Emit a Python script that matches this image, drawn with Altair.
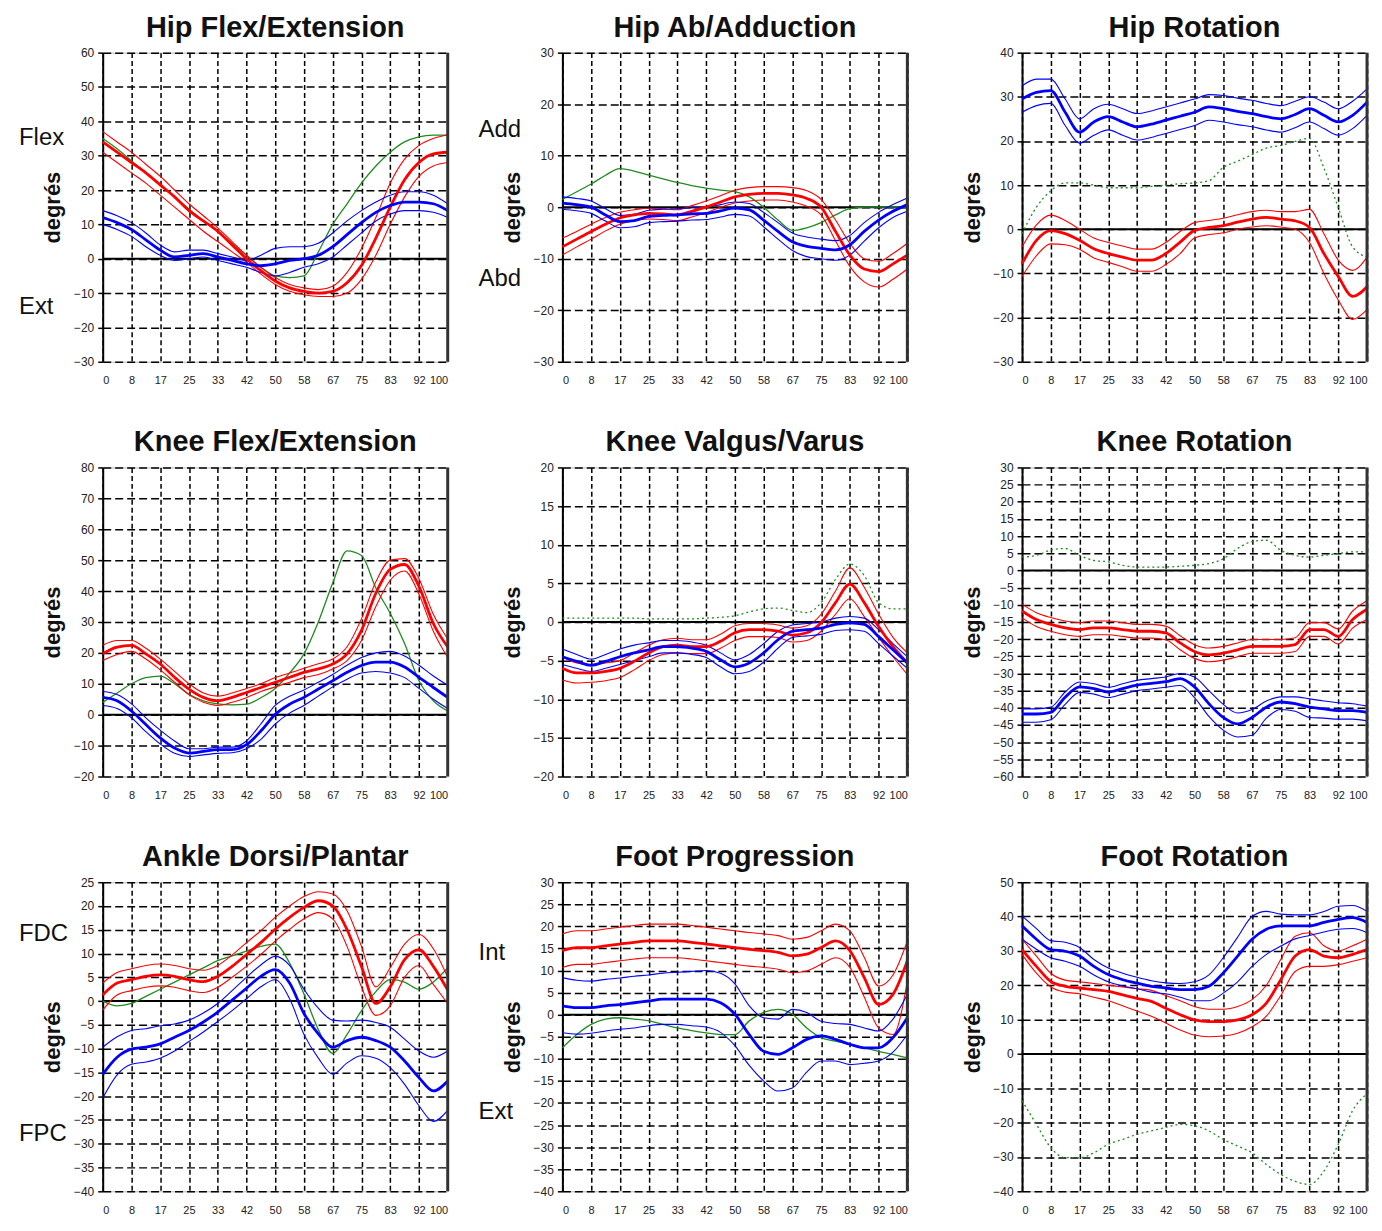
import json
import altair as alt
import pandas as pd

# ---- gait-cycle sample positions (% of cycle) ----
X = [0, 4.17, 8.33, 12.5, 16.67, 20.83, 25, 29.17, 33.33, 37.5, 41.67, 45.83, 50,
     54.17, 58.33, 62.5, 66.67, 70.83, 75, 79.17, 83.33, 87.5, 91.67, 95.83, 100]
X_TICKS = [0, 8.33, 16.67, 25, 33.33, 41.67, 50, 58.33, 66.67, 75, 83.33, 91.67, 100]
X_TICK_LABELS = ["0", "8", "17", "25", "33", "42", "50", "58", "67", "75", "83", "92", "100"]

# ---- Hip Flex/Extension ----
HIP_FLEX_TICKS = [-30, -20, -10, 0, 10, 20, 30, 40, 50, 60]
HIP_FLEX_RED = [34, 31, 28, 25, 21.5, 18, 14, 11, 8, 4, 0, -3.5, -6.5, -8.5, -9.5, -10, -9.5, -7, -2, 6, 15, 23, 28, 30.5, 31]
HIP_FLEX_RED_HI = [37, 34, 31, 27.5, 24, 20, 16, 12.5, 9, 5, 1, -2.5, -5.5, -7.5, -8.5, -9, -8, -4, 3, 12, 22, 29, 33, 35, 36]
HIP_FLEX_RED_LO = [31, 28, 25, 22, 18.5, 15, 11.5, 8, 5, 2, -1, -4.5, -7.5, -9.5, -10.5, -11, -11, -10, -6, 1, 10, 18, 24, 27, 28]
HIP_FLEX_BLUE = [12, 10.5, 8.5, 5.5, 2.5, 0.5, 1, 1.5, 0.5, -0.5, -1.5, -2, -1.5, -0.5, 0, 1, 3.5, 7, 10.5, 13.5, 15.5, 16.5, 16.5, 16, 14]
HIP_FLEX_BLUE_HI = [14, 12.5, 10.5, 7.5, 4, 2, 2.5, 2.5, 1.5, 0.5, -0.5, 1, 3, 3.5, 3.5, 4.5, 7.5, 11, 14, 16.5, 18.5, 19.5, 19.5, 18.5, 16]
HIP_FLEX_BLUE_LO = [10, 8.5, 6.5, 3.5, 1, -0.5, 0, 0.5, -0.5, -1.5, -2.5, -4, -5, -4, -2.5, -1.5, 0.5, 4, 7.5, 11, 13, 14, 14, 13.5, 12]
HIP_FLEX_GREEN = [35, 32, 28.5, 25, 21.5, 18, 14.5, 11, 8, 4.5, 1, -2.5, -5, -5.5, -5, 2, 10, 16, 22, 27, 31, 34, 35.5, 36, 36]

# ---- Hip Ab/Adduction ----
HIP_ABD_TICKS = [-30, -20, -10, 0, 10, 20, 30]
HIP_ABD_RED = [-7.7, -6.2, -4.7, -3.3, -2.1, -1.5, -1.2, -1.3, -1.5, -0.8, 0, 1, 2, 2.5, 2.7, 2.7, 2.4, 1.7, 0, -4.7, -9.3, -12, -12.5, -11, -9.3]
HIP_ABD_RED_HI = [-6, -4.7, -3.3, -2, -1, -0.5, -0.2, -0.3, -0.5, 0.3, 1.2, 2.2, 3.3, 3.8, 4, 4, 3.8, 3.2, 1.5, -2.5, -7, -10, -10.5, -9, -7]
HIP_ABD_RED_LO = [-9.3, -7.7, -6.2, -4.6, -3.3, -2.6, -2.3, -2.4, -2.6, -1.9, -1.1, 0, 0.8, 1.2, 1.4, 1.4, 1, 0.2, -1.5, -6.5, -11.5, -14.5, -15.5, -14, -12]
HIP_ABD_BLUE = [0.8, 0.5, 0, -1.5, -2.8, -2.6, -1.8, -1.6, -1.5, -1.3, -1.2, -0.7, -0.2, -0.5, -2.5, -4.7, -6.7, -7.6, -8, -8.3, -7.3, -4.7, -2.5, -0.8, 0.5]
HIP_ABD_BLUE_HI = [2, 1.7, 1.2, -0.3, -1.6, -1.4, -0.6, -0.4, -0.3, -0.1, 0, 0.5, 1, 0.7, -1, -3, -5, -5.8, -6.2, -6.5, -5.5, -3, -1, 0.5, 1.8]
HIP_ABD_BLUE_LO = [-0.4, -0.7, -1.2, -2.7, -4, -3.8, -3, -2.8, -2.7, -2.5, -2.4, -1.9, -1.4, -1.7, -3.8, -6.2, -8.4, -9.6, -10, -10.3, -9.3, -6.6, -4, -2, -0.8]
HIP_ABD_GREEN = [1.5, 3, 4.5, 6.2, 7.5, 7, 6.2, 5.5, 4.8, 4.2, 3.7, 3.3, 3, 2, 0, -2.5, -4.5, -4, -3, -1.5, -0.3, 0, 0, 0, 0]

# ---- Hip Rotation ----
HIP_ROT_TICKS = [-30, -20, -10, 0, 10, 20, 30, 40]
HIP_ROT_RED = [-7.8, -2.5, -0.3, -1, -2.5, -4.4, -5.5, -6.3, -7, -7, -5.5, -2.9, -0.3, 0.4, 0.8, 1.6, 2.3, 2.7, 2.3, 1.9, 0.4, -5.5, -10.7, -15.2, -13]
HIP_ROT_RED_HI = [-4, 1, 3.2, 2, 0, -2, -3, -3.8, -4.5, -4.5, -3, -0.5, 1.5, 2, 2.5, 3.3, 4, 4.3, 4, 4, 4.5, -1, -7, -9.3, -6.3]
HIP_ROT_RED_LO = [-10.7, -6, -3.3, -3.5, -4.5, -6.5, -7.5, -8.5, -9.5, -9.5, -8, -5.5, -2, -1.2, -0.8, 0, 0.5, 0.8, 0.5, 0, -3, -10, -16, -20.4, -18.2]
HIP_ROT_BLUE = [29.5, 31, 31.4, 26.5, 22, 24.3, 25.5, 24.3, 23.2, 23.8, 24.7, 25.6, 26.5, 27.7, 27.3, 26.7, 26.2, 25.5, 25, 26, 27.3, 25.8, 24.3, 25.8, 28.8]
HIP_ROT_BLUE_HI = [32.5, 34, 34, 29.5, 25, 27.3, 28.3, 27.3, 26.2, 26.8, 27.7, 28.6, 29.5, 30.5, 30.3, 29.7, 29.2, 28.5, 28, 29, 30, 28.8, 27.3, 29, 31.8]
HIP_ROT_BLUE_LO = [26.5, 28, 28.5, 23.5, 19.5, 21.3, 22.5, 21.3, 20.2, 20.8, 21.7, 22.6, 23.5, 24.7, 24.3, 23.7, 23.2, 22.5, 22, 23, 24.3, 22.8, 21.3, 22.8, 25.8]
HIP_ROT_GREEN = [-1, 5, 8.7, 10.5, 10.5, 10, 9.4, 9.4, 9.4, 9.7, 10, 10.3, 10.5, 11, 14, 15.4, 16.9, 18.4, 19, 19.9, 20.6, 13.9, 4.9, -4, -6.3]

# ---- Knee Flex/Extension ----
KNEE_FLEX_TICKS = [-20, -10, 0, 10, 20, 30, 40, 50, 60, 70, 80]
KNEE_FLEX_RED = [19.7, 21.9, 22.4, 19.7, 16.4, 12.1, 8.3, 5.6, 4.5, 5.6, 7.2, 8.8, 10.5, 12.1, 13.7, 14.8, 16.4, 19.7, 27.3, 39.3, 47, 48.6, 41.5, 29.5, 21.9]
KNEE_FLEX_RED_HI = [22.5, 24, 24, 21.5, 18, 14, 10, 7, 6, 7, 8.5, 10, 12, 13.5, 15, 16.5, 18, 22, 31, 43, 50, 50.5, 44, 32.5, 24.5]
KNEE_FLEX_RED_LO = [17.5, 19.5, 20.5, 18, 14.5, 10.5, 6.5, 4, 3, 4, 5.5, 7.5, 9, 10.5, 12, 13, 14.8, 17.5, 24, 35, 43.5, 46.5, 39, 27, 18.5]
KNEE_FLEX_BLUE = [5.6, 4.5, 1.2, -3.2, -7.5, -10.8, -12.4, -11.9, -11.3, -11.3, -9.7, -5.3, 0.1, 3.4, 5.6, 8.3, 11, 13.7, 15.9, 17, 17, 15.4, 12.1, 8.8, 5.6]
KNEE_FLEX_BLUE_HI = [7.5, 6.5, 3.5, -1, -5, -8.5, -11, -11, -10.5, -10.5, -8.5, -3, 3, 6, 8, 10.5, 13, 16, 18.5, 20, 20.5, 19, 16, 12.5, 9.5]
KNEE_FLEX_BLUE_LO = [3, 2, -1, -5.5, -9.5, -12.5, -13.5, -13, -12.5, -12.3, -11, -8, -3, 0.5, 3, 6, 9, 11.5, 13.5, 14, 13.5, 12, 8.5, 5, 2]
KNEE_FLEX_GREEN = [4, 7, 10, 12, 12.5, 10, 6.6, 4.5, 3.5, 3.2, 3.4, 5.5, 8.5, 13.5, 19.7, 30, 42.6, 53, 51.5, 41, 32.8, 23, 11, 4.5, 1.2]

# ---- Knee Valgus/Varus ----
KNEE_VAL_TICKS = [-20, -15, -10, -5, 0, 5, 10, 15, 20]
KNEE_VAL_RED = [-6, -6.6, -6.6, -6.4, -6, -5.1, -4, -3.2, -3, -3.2, -3.2, -2.5, -1.4, -1, -1, -1.2, -1.7, -1.4, -0.1, 2.5, 4.9, 2.5, -0.6, -3.2, -5.3]
KNEE_VAL_RED_HI = [-4.5, -5.3, -5.5, -5.3, -5, -4, -3, -2.3, -2.1, -2.3, -2.3, -1.6, -0.5, -0.2, -0.2, -0.4, -0.8, -0.5, 1, 4, 7, 4.5, 1, -2, -4]
KNEE_VAL_RED_LO = [-7.5, -7.9, -7.8, -7.6, -7.2, -6.2, -5, -4.2, -4, -4.1, -4.1, -3.4, -2.4, -1.9, -1.9, -2, -2.6, -2.4, -1.2, 1, 3, 0.7, -2, -4.5, -6.8]
KNEE_VAL_BLUE = [-4.5, -5.1, -5.6, -5.1, -4.5, -4, -3.6, -3.2, -3.2, -3.4, -3.8, -4.9, -5.8, -5.3, -4, -2.3, -1.2, -1, -0.8, -0.3, -0.1, -0.3, -1.9, -3.6, -5.3]
KNEE_VAL_BLUE_HI = [-3.5, -4.2, -4.8, -4.2, -3.5, -3, -2.7, -2.4, -2.4, -2.6, -3, -4, -4.9, -4.2, -2.8, -1.2, -0.4, -0.2, 0, 0.5, 0.7, 0.5, -1, -2.8, -4.5]
KNEE_VAL_BLUE_LO = [-5.5, -6, -6.4, -6, -5.5, -5, -4.5, -4, -4, -4.2, -4.6, -5.8, -6.7, -6.4, -5.2, -3.4, -2, -1.8, -1.6, -1.1, -1, -1.2, -2.8, -4.4, -6]
KNEE_VAL_GREEN = [0.5, 0.5, 0.5, 0.5, 0.5, 0.5, 0.4, 0.4, 0.4, 0.4, 0.5, 0.6, 0.8, 1.3, 1.7, 1.8, 1.5, 1.2, 2.5, 5.5, 7.5, 6, 2.5, 1.7, 1.7]

# ---- Knee Rotation ----
KNEE_ROT_TICKS = [-60, -55, -50, -45, -40, -35, -30, -25, -20, -15, -10, -5, 0, 5, 10, 15, 20, 25, 30]
KNEE_ROT_RED = [-11.8, -14.3, -15.7, -16.7, -17.2, -16.7, -16.7, -17.2, -17.7, -17.7, -18.2, -21.1, -23.6, -24.6, -24.1, -23.1, -22.1, -22.1, -22.1, -21.6, -17.2, -17.2, -19.2, -14.3, -11.3]
KNEE_ROT_RED_HI = [-9.8, -12.3, -13.7, -14.7, -15.2, -14.7, -14.7, -15.2, -15.7, -15.7, -16.2, -19, -21.6, -22.6, -22.1, -21.1, -20.1, -20.1, -20.1, -19.6, -15.2, -15.2, -17, -11.8, -8.8]
KNEE_ROT_RED_LO = [-13.8, -16.3, -17.7, -18.7, -19.2, -18.7, -18.7, -19.2, -19.7, -19.7, -20.2, -23.1, -25.6, -26.6, -26.1, -25.1, -24.1, -24.1, -24.1, -23.6, -19.2, -19.2, -21.4, -16.8, -14.3]
KNEE_ROT_BLUE = [-41.8, -41.8, -41.3, -36.9, -33.9, -34.4, -35.4, -34.4, -33.4, -32.9, -32.4, -31.5, -33.9, -38.8, -42.8, -44.7, -42.8, -39.8, -38.3, -38.8, -39.8, -40.3, -40.8, -40.8, -41.3]
KNEE_ROT_BLUE_HI = [-40.3, -40.3, -39.8, -35.4, -32.5, -33, -34, -33, -32, -31.5, -31, -30, -31, -35, -39, -41.5, -40.5, -38, -36.8, -36.8, -37.4, -38, -38.5, -38.8, -39.5]
KNEE_ROT_BLUE_LO = [-44.2, -44.2, -43.5, -39, -35.5, -36, -37, -36, -35, -34.5, -34, -33.5, -37, -42.5, -46.5, -48.5, -48, -43, -40.5, -41, -42.8, -43, -43.3, -43.3, -43.8]
KNEE_ROT_GREEN = [3.9, 4.4, 5.9, 6.4, 4.4, 2.9, 2.5, 1.5, 1, 1, 1, 1.2, 1.5, 2, 3.4, 6.4, 8.4, 8.8, 5.9, 4.4, 3.9, 4.4, 4.9, 5.4, 5.4]

# ---- Ankle Dorsi/Plantar ----
ANKLE_TICKS = [-40, -35, -30, -25, -20, -15, -10, -5, 0, 5, 10, 15, 20, 25]
ANKLE_RED = [1.3, 3.8, 4.5, 5.2, 5.5, 5.2, 4.5, 4.1, 5.2, 7.3, 9.8, 12.3, 15.1, 17.6, 19.7, 21.1, 20, 15, 7.3, -0.5, 3, 8.7, 10.8, 7.3, 2.3]
ANKLE_RED_HI = [3.8, 6, 6.8, 7.5, 7.8, 7.5, 6.8, 6.5, 7.5, 9.7, 12.3, 14.8, 17.6, 20, 22, 23, 22.5, 19, 11.5, 3, 7, 12, 14, 11, 5]
ANKLE_RED_LO = [-1.9, 1.3, 2.2, 2.9, 3.2, 2.9, 2.2, 1.8, 2.9, 5, 7.3, 9.8, 12.6, 15.1, 17.3, 18.6, 17.3, 11.5, 3, -3, -1, 5, 7.5, 3.5, -0.5]
ANKLE_BLUE = [-15.4, -11.8, -10.1, -9.7, -9, -7.6, -6.2, -4.4, -2.3, 0.2, 2.7, 5.2, 6.6, 3.8, -2.6, -6.9, -9.7, -8.3, -7.6, -8.3, -9.7, -12.6, -16.1, -18.9, -16.8]
ANKLE_BLUE_HI = [-9.7, -7.5, -6.2, -5.8, -5.2, -4.8, -4, -2.5, -0.5, 2.2, 5, 7.6, 9.4, 7.5, 2.5, -1.5, -4, -4.2, -4, -4.5, -5.5, -8, -10.5, -11.8, -10.5]
ANKLE_BLUE_LO = [-20.4, -15.5, -13.3, -12.8, -12, -10.5, -8.5, -6.5, -4.3, -2, 0.5, 3, 4.5, 0.5, -7, -12, -15.4, -13, -11.5, -12, -14, -17.5, -22, -25.3, -23]
ANKLE_GREEN = [0, -1, -0.5, 1, 2.5, 4, 5.5, 7, 8.5, 9.5, 10.5, 11.5, 12, 8, 1.5, -6, -11, -7, -2, 2, 4.5, 4, 2.5, 4, 7]

# ---- Foot Progression ----
FOOT_PROG_TICKS = [-40, -35, -30, -25, -20, -15, -10, -5, 0, 5, 10, 15, 20, 25, 30]
FOOT_PROG_RED = [14.5, 15.2, 15.2, 15.6, 16, 16.4, 16.7, 16.7, 16.7, 16.4, 16, 15.6, 15.2, 14.8, 14.5, 14.1, 13.3, 13.7, 15.2, 16.7, 14.5, 8.4, 2.3, 4.6, 12.2]
FOOT_PROG_RED_HI = [18.3, 19, 19, 19.4, 19.8, 20.2, 20.5, 20.5, 20.5, 20.2, 19.8, 19.4, 19, 18.6, 18.3, 17.9, 17.1, 17.5, 19, 20.5, 19, 13, 6.5, 9, 16.7]
FOOT_PROG_RED_LO = [10.7, 11.4, 11.4, 11.8, 12.2, 12.6, 12.9, 12.9, 12.9, 12.6, 12.2, 11.8, 11.4, 11, 10.7, 10.3, 9.5, 9.9, 11.4, 12.9, 10.7, 4, -3, -4.5, 7.6]
FOOT_PROG_BLUE = [2, 1.6, 1.6, 2, 2.3, 2.7, 3.1, 3.5, 3.5, 3.5, 3.5, 2.7, 0.1, -4.5, -8.3, -9, -7.5, -5.6, -4.8, -5.6, -6.7, -7.5, -7.5, -5.2, -0.7]
FOOT_PROG_BLUE_HI = [8.4, 7.8, 7.6, 8, 8.3, 8.7, 9, 9.4, 9.6, 9.8, 10, 9.4, 7, 2, -0.7, -1, 1.2, 0.5, -1.5, -2, -2.2, -3, -3.7, -1, 4.6]
FOOT_PROG_BLUE_LO = [-4.1, -4.4, -4.2, -3.7, -3.3, -3, -2.5, -2.2, -2.2, -2.5, -2.8, -4, -7, -11.5, -15, -17.3, -16.6, -13, -10.5, -10.5, -11.3, -11, -10.5, -8.5, -4.5]
FOOT_PROG_GREEN = [-7.5, -4.5, -2.2, -1, -0.7, -1, -1.4, -2.2, -3, -3.6, -4.1, -4.5, -4.5, -1.4, 0.5, 1.2, 0.1, -3, -5.2, -6, -6.7, -7.5, -8.3, -9, -9.8]

# ---- Foot Rotation ----
FOOT_ROT_TICKS = [-40, -30, -20, -10, 0, 10, 20, 30, 40, 50]
FOOT_ROT_RED = [30.4, 25.5, 21.1, 19.7, 19.2, 18.7, 18.2, 17.2, 16.2, 15.3, 13.3, 11.4, 9.9, 9.4, 9.4, 9.9, 11.4, 14.8, 21.6, 28.5, 30.4, 28.5, 28, 29, 30.4]
FOOT_ROT_RED_HI = [33.4, 28.5, 23.5, 21.5, 21, 20.5, 20, 19.5, 19, 18.5, 17, 15.5, 13.8, 13, 13, 13.8, 15.8, 20, 27.5, 34.3, 35.3, 31.5, 30, 31.5, 33.4]
FOOT_ROT_RED_LO = [29, 23.5, 19.5, 18, 17.5, 16.5, 15.5, 14, 12.5, 11, 9, 7, 5.5, 5, 5.2, 6, 7.9, 11, 17, 24, 25.5, 25.5, 26, 27, 28]
FOOT_ROT_BLUE = [37.3, 33.4, 30.4, 29.9, 28.5, 25.5, 23.1, 21.6, 20.6, 19.7, 19.2, 18.7, 18.7, 19.7, 23.6, 28.5, 33.4, 36.3, 37.3, 37.3, 37.3, 38.3, 39.2, 39.7, 38.3]
FOOT_ROT_BLUE_HI = [40.2, 36.5, 33, 32.5, 31, 27.5, 25, 23.5, 22.3, 21.3, 20.7, 20.5, 21, 23, 28, 34, 40, 41.5, 40.7, 40.5, 40.5, 41.5, 43, 43.2, 41.5]
FOOT_ROT_BLUE_LO = [33.4, 30.5, 28, 27, 25.5, 23, 21, 19.8, 19, 18, 17.5, 16.5, 15.5, 15.5, 17.7, 21, 25.5, 29, 31.4, 33.5, 34.5, 35.5, 36.3, 36.5, 35.3]
FOOT_ROT_GREEN = [-13.6, -20.5, -27.3, -30.2, -30.2, -28.8, -26.3, -24.9, -23.4, -22.4, -21.4, -20.5, -20.9, -22.4, -24.9, -26.8, -28.8, -32.2, -35.1, -37.1, -38, -34.1, -26.3, -16.5, -11.6]

FONT = "Liberation Sans"
W, H = 346, 310
LABEL_EXPR = json.dumps(X_TICK_LABELS) + "[round(datum.value*12/100)]"


def panel(title, ticks, red, blue, green, dotted, side=None):
    rows = []
    for color, trio in (("red", red), ("blue", blue)):
        for kind, arr in zip(("mean", "hi", "lo"), trio):
            for x, v in zip(X, arr):
                rows.append({"x": x, "v": v, "c": color, "s": color + kind,
                             "w": "mean" if kind == "mean" else "band"})
    for x, v in zip(X, green):
        rows.append({"x": x, "v": v, "c": "green", "s": "green", "w": "green"})
    df = pd.DataFrame(rows)

    xs = alt.X("x:Q", scale=alt.Scale(domain=[0, 100], nice=False),
               axis=alt.Axis(values=X_TICKS, labelExpr=LABEL_EXPR, title=None,
                             grid=True, gridDash=[5, 3], gridColor="black",
                             gridWidth=1.5, gridOpacity=1, domain=False,
                             ticks=False, labelPadding=13, labelFontSize=11,
                             labelColor="#222", labelFont=FONT))
    ys = alt.Y("v:Q", scale=alt.Scale(domain=[ticks[0], ticks[-1]], nice=False, zero=False),
               axis=alt.Axis(values=ticks, title="degrés", titleFontSize=22,
                             titleFontWeight="bold", titleFont=FONT, titleColor="#111",
                             titleAngle=270, titleX=-50, titleY=H / 2,
                             titleAlign="center", titleBaseline="middle",
                             grid=True, gridDash=[8, 4], gridColor="black",
                             gridWidth=1.5, gridOpacity=1, domain=True,
                             domainColor="black", domainWidth=2, ticks=True,
                             tickColor="black", tickSize=5, tickWidth=1.5,
                             labelPadding=4, labelFontSize=12, labelColor="#222",
                             labelFont=FONT))
    col = alt.Color("c:N", scale=alt.Scale(domain=["red", "blue", "green"],
                                           range=["#ff0000", "#0000ff", "#1e8c1e"]),
                    legend=None)
    base = alt.Chart(df).encode(x=xs, y=ys, color=col, detail="s:N")

    zero = alt.Chart(pd.DataFrame({"v": [0]})).mark_rule(
        color="black", strokeWidth=2).encode(y=ys)
    gmark = dict(interpolate="monotone", strokeWidth=1.3)
    if dotted:
        gmark["strokeDash"] = [2, 3]
    green_l = base.transform_filter("datum.w == 'green'").mark_line(**gmark)
    band_l = base.transform_filter("datum.w == 'band'").mark_line(
        interpolate="monotone", strokeWidth=1.1)
    mean_l = base.transform_filter("datum.w == 'mean'").mark_line(
        interpolate="monotone", strokeWidth=2.8)
    right = alt.Chart(pd.DataFrame({"x": [100]})).mark_rule(
        color="#333", strokeWidth=3).encode(x=xs)

    layers = [zero, green_l, band_l, mean_l, right]
    if side:
        sdf = pd.DataFrame({"v": [side[0][1], side[1][1]], "t": [side[0][0], side[1][0]]})
        layers.append(alt.Chart(sdf).mark_text(
            align="left", baseline="middle", fontSize=24, font=FONT, color="#111"
        ).encode(x=alt.value(-84), y=ys, text="t:N"))

    return alt.layer(*layers).properties(
        width=W, height=H,
        title=alt.TitleParams(title, fontSize=29, fontWeight="bold", font=FONT,
                              color="#111", anchor="middle", frame="group", offset=4))


panels = [
    panel("Hip Flex/Extension", HIP_FLEX_TICKS,
          (HIP_FLEX_RED, HIP_FLEX_RED_HI, HIP_FLEX_RED_LO),
          (HIP_FLEX_BLUE, HIP_FLEX_BLUE_HI, HIP_FLEX_BLUE_LO),
          HIP_FLEX_GREEN, False, side=(("Flex", 35), ("Ext", -14))),
    panel("Hip Ab/Adduction", HIP_ABD_TICKS,
          (HIP_ABD_RED, HIP_ABD_RED_HI, HIP_ABD_RED_LO),
          (HIP_ABD_BLUE, HIP_ABD_BLUE_HI, HIP_ABD_BLUE_LO),
          HIP_ABD_GREEN, False, side=(("Add", 15), ("Abd", -14))),
    panel("Hip Rotation", HIP_ROT_TICKS,
          (HIP_ROT_RED, HIP_ROT_RED_HI, HIP_ROT_RED_LO),
          (HIP_ROT_BLUE, HIP_ROT_BLUE_HI, HIP_ROT_BLUE_LO),
          HIP_ROT_GREEN, True),
    panel("Knee Flex/Extension", KNEE_FLEX_TICKS,
          (KNEE_FLEX_RED, KNEE_FLEX_RED_HI, KNEE_FLEX_RED_LO),
          (KNEE_FLEX_BLUE, KNEE_FLEX_BLUE_HI, KNEE_FLEX_BLUE_LO),
          KNEE_FLEX_GREEN, False),
    panel("Knee Valgus/Varus", KNEE_VAL_TICKS,
          (KNEE_VAL_RED, KNEE_VAL_RED_HI, KNEE_VAL_RED_LO),
          (KNEE_VAL_BLUE, KNEE_VAL_BLUE_HI, KNEE_VAL_BLUE_LO),
          KNEE_VAL_GREEN, True),
    panel("Knee Rotation", KNEE_ROT_TICKS,
          (KNEE_ROT_RED, KNEE_ROT_RED_HI, KNEE_ROT_RED_LO),
          (KNEE_ROT_BLUE, KNEE_ROT_BLUE_HI, KNEE_ROT_BLUE_LO),
          KNEE_ROT_GREEN, True),
    panel("Ankle Dorsi/Plantar", ANKLE_TICKS,
          (ANKLE_RED, ANKLE_RED_HI, ANKLE_RED_LO),
          (ANKLE_BLUE, ANKLE_BLUE_HI, ANKLE_BLUE_LO),
          ANKLE_GREEN, False, side=(("FDC", 14), ("FPC", -28))),
    panel("Foot Progression", FOOT_PROG_TICKS,
          (FOOT_PROG_RED, FOOT_PROG_RED_HI, FOOT_PROG_RED_LO),
          (FOOT_PROG_BLUE, FOOT_PROG_BLUE_HI, FOOT_PROG_BLUE_LO),
          FOOT_PROG_GREEN, False, side=(("Int", 14), ("Ext", -22))),
    panel("Foot Rotation", FOOT_ROT_TICKS,
          (FOOT_ROT_RED, FOOT_ROT_RED_HI, FOOT_ROT_RED_LO),
          (FOOT_ROT_BLUE, FOOT_ROT_BLUE_HI, FOOT_ROT_BLUE_LO),
          FOOT_ROT_GREEN, True),
]

chart = alt.ConcatChart(
    concat=panels, columns=3, bounds="flush",
    spacing=alt.RowColnumber(row=106, column=115),
).properties(
    padding={"left": 10, "top": 3, "right": 0, "bottom": 0}
).configure(font=FONT, background="white").configure_view(
    stroke="#bbbbbb", strokeWidth=1
)

chart.save("out.html", embed_options={"renderer": "svg", "actions": False})
